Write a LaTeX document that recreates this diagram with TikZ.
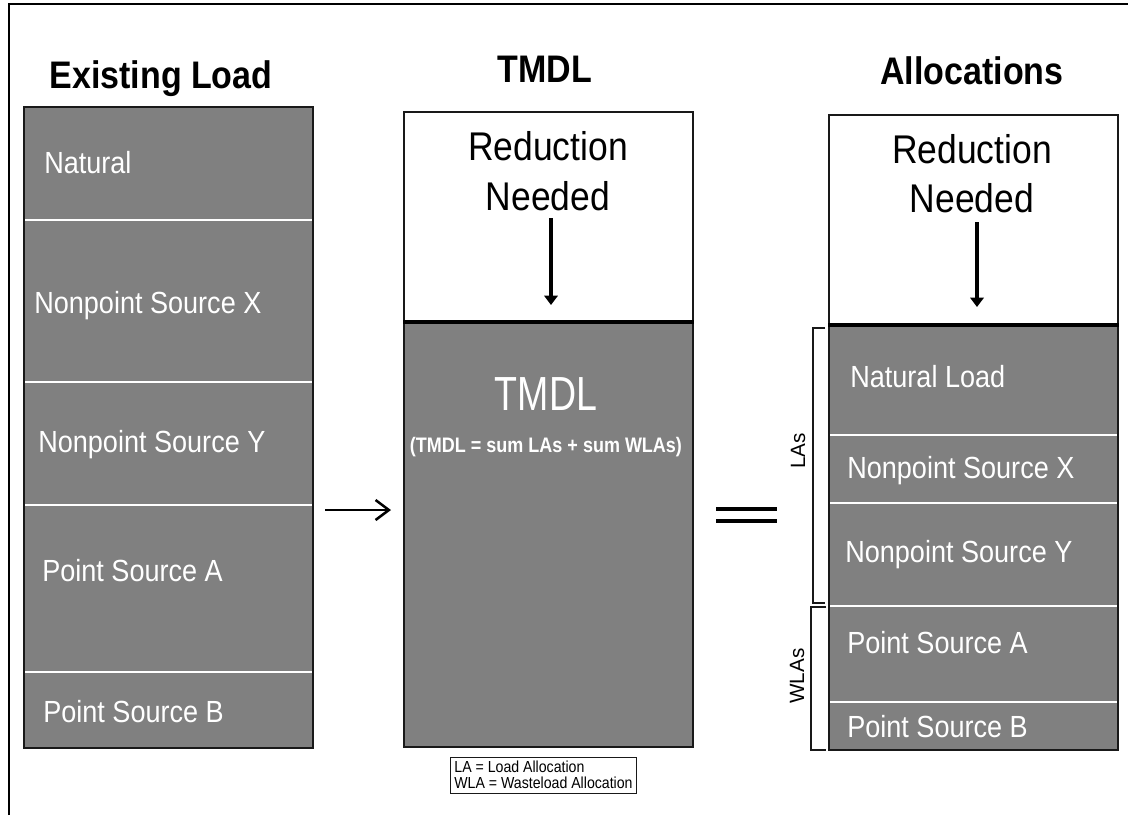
\documentclass[tikz,border=0pt]{standalone}
\usepackage{fontspec}
\setmainfont{Liberation Sans}
\usetikzlibrary{arrows.meta}
\definecolor{boxgray}{RGB}{128,128,128}
\definecolor{edge}{RGB}{25,25,25}
\newcommand{\fsz}[1]{\fontsize{#1pt}{#1pt}\selectfont}
\newcommand{\vst}[1]{\scalebox{1}[1.13]{#1}}
\tikzset{
  frame/.style={line width=2.2pt, black},
  graybox/.style={fill=boxgray, draw=edge, line width=1.1pt},
  whitebox/.style={fill=white, draw=edge, line width=1.1pt},
  splitline/.style={white, line width=1.4pt},
  topline/.style={black, line width=2.4pt},
  title/.style={font=\bfseries\fsz{25.5}, inner sep=0pt, anchor=base},
  seglabel/.style={font=\fsz{20.3}, text=white, inner sep=0pt, anchor=base west},
  redlabel/.style={font=\fsz{26.6}, inner sep=0pt, anchor=base},
  downarrow/.style={line width=2.4pt, -{Triangle[length=7pt,width=10pt]}},
  bracket/.style={line width=1.3pt, edge},
  sidelabel/.style={font=\fsz{15.5}, inner sep=0pt, rotate=90},
}
\begin{document}
\begin{tikzpicture}[x=0.75pt,y=-0.75pt]
\useasboundingbox (0,0) rectangle (1128,815);
% outer frame
\draw[frame] (9,815) -- (9,4) -- (1128,4);

% titles
\node[title] (t1) at (161,88) {\vst{Existing Load}};
\node[title] (t2) at (545,82) {\vst{TMDL}};
\node[title] (t3) at (972,84) {\vst{Allocations}};

% ---------- left column ----------
\draw[graybox] (24,107) rectangle (313,748);
\foreach \yy in {220,382,505,672} \draw[splitline] (25,\yy) -- (312,\yy);
\node[seglabel] (l1) at (44,173) {\vst{Natural}};
\node[seglabel] (l2) at (34,313) {\vst{Nonpoint Source X}};
\node[seglabel] (l3) at (38,452) {\vst{Nonpoint Source Y}};
\node[seglabel] (l4) at (42,581) {\vst{Point Source A}};
\node[seglabel] (l5) at (43,722) {\vst{Point Source B}};

% ---------- middle column ----------
\draw[whitebox] (404,112) rectangle (693,322);
\draw[graybox] (404,322) rectangle (693,747);
\draw[topline] (403,322) -- (694,322);
\node[redlabel] (m1) at (548,160) {\vst{Reduction}};
\node[redlabel] (m2) at (548,210) {\vst{Needed}};
\coordinate (m3) at (551,218);
\coordinate (m4) at (551,305);
\draw[downarrow] (m3) -- (m4);
\node[font=\fsz{35.2}, text=white, inner sep=0pt, anchor=base] (m5) at (546,410) {\scalebox{0.8}[1.02]{TMDL}};
\node[font=\bfseries\fsz{15}, text=white, inner sep=0pt, anchor=base] (m6) at (546,452) {\scalebox{0.9}[1.05]{(TMDL = sum LAs + sum WLAs)}};

% legend
\node[draw=edge, line width=0.6pt, fill=white, align=left, font=\fontsize{10.6pt}{12pt}\selectfont, inner xsep=3pt, inner ysep=3pt, anchor=north west] (leg) at (450,757) {\vst{LA = Load Allocation}\\\vst{WLA = Wasteload Allocation}};

% ---------- right column ----------
\draw[whitebox] (829,115) rectangle (1118,325);
\draw[graybox] (829,325) rectangle (1118,750);
\draw[topline] (828,325) -- (1119,325);
\foreach \yy in {435,503,606,702} \draw[splitline] (830,\yy) -- (1117,\yy);
\node[redlabel] (r1) at (972,163) {\vst{Reduction}};
\node[redlabel] (r2) at (972,212) {\vst{Needed}};
\coordinate (r3) at (977,222);
\coordinate (r4) at (977,307);
\draw[downarrow] (r3) -- (r4);
\node[seglabel] (s1) at (850,387) {\vst{Natural Load}};
\node[seglabel] (s2) at (847,478) {\vst{Nonpoint Source X}};
\node[seglabel] (s3) at (845,562) {\vst{Nonpoint Source Y}};
\node[seglabel] (s4) at (847,653) {\vst{Point Source A}};
\node[seglabel] (s5) at (847,737) {\vst{Point Source B}};

% brackets
\draw[bracket] (825,328) -- (813,328) -- (813,603) -- (825,603);
\draw[bracket] (826,607) -- (811,607) -- (811,750) -- (826,750);
\node[sidelabel] (b1) at (798,451) {LAs};
\node[sidelabel] (b2) at (797,676) {WLAs};

% arrow and equals
\coordinate (a1) at (325,510);
\coordinate (a2) at (391,510);
\draw[line width=1.9pt, -{Straight Barb[length=10pt,width=15pt]}] (a1) -- (a2);
\coordinate (e1) at (716,509);
\coordinate (e2) at (777,509);
\coordinate (e3) at (716,521);
\coordinate (e4) at (777,521);
\draw[line width=2.3pt] (e1) -- (e2);
\draw[line width=2.3pt] (e3) -- (e4);
\end{tikzpicture}
\end{document}
